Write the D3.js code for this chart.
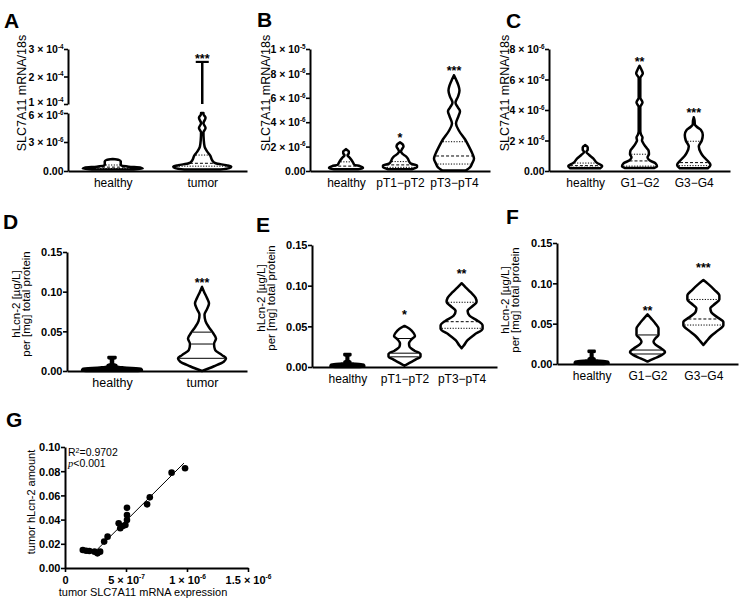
<!DOCTYPE html>
<html><head><meta charset="utf-8">
<script src="https://cdn.jsdelivr.net/npm/d3@7"></script>
<style>
body{margin:0;background:#fff;}
svg{display:block;font-family:"Liberation Sans",Arial,Helvetica,sans-serif;}
</style></head><body>
<svg id="chart" width="748" height="605"></svg>
<script>
// ================= DATA =================
// Violin profiles: [value, relative density]
const groupsA = ["healthy", "tumor"];
const violinA_healthy = [[1.5e-7,21],[2.5e-7,30],[3.5e-7,28],[4.5e-7,16],[5.5e-7,9],[6.5e-7,8],[8e-7,8],[1.0e-6,8],[1.15e-6,6],[1.25e-6,0]];
const violinA_tumor = [[1.5e-7,18],[3e-7,27],[4.5e-7,29],[6e-7,24],[8e-7,13.5],[1.1e-6,10],[1.6e-6,8],[2.0e-6,5],[2.5e-6,2.4],[3.2e-6,1.5],[4.0e-6,1.2],[4.45e-6,3.3],[4.95e-6,1.2],[5.5e-6,3.3],[5.9e-6,1.2],[6.0e-6,1.2]];
const quartA_healthy = [2.5e-7, 4e-7, 6.2e-7];
const quartA_tumor = [5e-7, 8e-7, 1.65e-6];
const maxA_tumor = 2.53e-4;
const starsA = ["", "***"];
const starValA = [0, 2.5e-4];
const ticksA_low = [0, 3e-6, 6e-6];
const ticksA_high = [1e-4, 2e-4, 3e-4];

const groupsB = ["healthy", "pT1\u2212pT2", "pT3\u2212pT4"];
const violinB_healthy = [[1.4e-7,12],[2.5e-7,17],[4e-7,14],[5e-7,8.5],[7e-7,7],[9e-7,5.5],[1.1e-6,3.5],[1.3e-6,1.5],[1.45e-6,2.8],[1.6e-6,2.8],[1.72e-6,1],[1.8e-6,0]];
const violinB_pT12 = [[1.5e-7,12],[3e-7,17],[4.5e-7,17],[6e-7,11],[8e-7,9],[1.0e-6,8],[1.2e-6,6],[1.4e-6,2.5],[1.6e-6,1],[1.8e-6,2],[2.0e-6,3.5],[2.2e-6,2.5],[2.35e-6,0]];
const violinB_pT34 = [[5e-8,12],[3e-7,16],[6e-7,18],[1.0e-6,20],[1.4e-6,18.5],[2.0e-6,15],[2.6e-6,11],[3.3e-6,5],[3.9e-6,2],[4.5e-6,4.5],[4.9e-6,6],[5.2e-6,4],[5.6e-6,1.5],[6.1e-6,4],[6.6e-6,5.5],[7.0e-6,4.5],[7.5e-6,2],[7.85e-6,0]];
const quartB_healthy = [2e-7, 4e-7, 7.5e-7];
const quartB_pT12 = [3e-7, 5e-7, 7.7e-7];
const quartB_pT34 = [5.7e-7, 1.23e-6, 2.4e-6];
const starsB = ["", "*", "***"];
const starValB = [0, 2.34e-6, 7.87e-6];
const ticksB = [0, 2e-6, 4e-6, 6e-6, 8e-6, 1e-5];

const groupsC = ["healthy", "G1\u2212G2", "G3\u2212G4"];
const violinC_healthy = [[1.8e-7,15],[3.3e-7,17],[5.2e-7,12],[8.3e-7,8],[1.05e-6,4],[1.25e-6,1.2],[1.4e-6,2.5],[1.55e-6,2.5],[1.7e-6,0]];
const violinC_G12 = [[2e-7,15],[3e-7,17.5],[5e-7,16],[7e-7,10],[9e-7,8],[1.1e-6,9.5],[1.35e-6,9],[1.6e-6,6],[1.85e-6,3.5],[2.0e-6,2.5],[2.2e-6,3],[2.4e-6,1.5],[2.6e-6,0.8],[4.2e-6,0.8],[4.5e-6,3],[4.8e-6,0.8],[6.1e-6,0.8],[6.4e-6,3.3],[6.7e-6,1.5],[6.9e-6,0]];
const violinC_G34 = [[1.8e-7,14],[4e-7,16.7],[7.2e-7,13],[1.0e-6,9],[1.2e-6,7],[1.6e-6,5],[2.0e-6,8],[2.36e-6,9],[2.7e-6,7],[2.9e-6,3],[3.05e-6,1],[3.3e-6,0.8],[3.52e-6,0]];
const quartC_healthy = [2.5e-7, 3.5e-7, 5.2e-7];
const quartC_G12 = [3.2e-7, 6.6e-7, 1.1e-6];
const quartC_G34 = [3.5e-7, 5.5e-7, 1.95e-6];
const starsC = ["", "**", "***"];
const starValC = [0, 6.89e-6, 3.57e-6];
const ticksC = [0, 2e-6, 4e-6, 6e-6, 8e-6];

const groupsD = ["healthy", "tumor"];
const violinD_healthy = [[0,26],[0.001,30],[0.003,29],[0.0045,12],[0.0055,5],[0.0075,4],[0.009,1],[0.0158,1],[0.016,3.5],[0.0178,3.5]];
const violinD_tumor = [[0,0],[0.006,12],[0.012,22],[0.016,24],[0.020,20],[0.027,13],[0.034,12],[0.041,14],[0.048,11],[0.055,7],[0.063,3.5],[0.071,2.5],[0.078,5],[0.085,7],[0.092,5],[0.1,2],[0.106,0]];
const quartD_tumor = [0.016, 0.034, 0.049];
const starsD = ["", "***"];
const starValD = [0, 0.106];
const ticksHL = [0, 0.05, 0.10, 0.15];

const groupsE = ["healthy", "pT1\u2212pT2", "pT3\u2212pT4"];
const violinE_healthy = [[0,12],[0.001,17],[0.003,16],[0.004,8],[0.005,2],[0.0065,3],[0.008,0.8],[0.014,0.8],[0.0145,3],[0.016,3]];
const violinE_pT12 = [[0.0015,0],[0.005,5],[0.009,11],[0.013,16],[0.016,16],[0.020,10],[0.025,5],[0.029,4.5],[0.034,7],[0.038,10.5],[0.042,9],[0.047,5],[0.0505,0]];
const violinE_pT34 = [[0.023,0],[0.026,2],[0.033,6],[0.040,13],[0.047,21],[0.051,21],[0.057,16],[0.063,8],[0.069,6],[0.075,11],[0.080,15],[0.085,14],[0.092,9],[0.098,4],[0.103,0]];
const quartE_pT12 = [0.0125, 0.017, 0.035];
const quartE_pT34 = [0.0476, 0.0557, 0.0796];
const starsE = ["", "*", "**"];
const starValE = [0, 0.059, 0.1095];

const groupsF = ["healthy", "G1\u2212G2", "G3\u2212G4"];
const violinF_healthy = [[0,12],[0.001,17],[0.003,16],[0.004,8],[0.005,2],[0.0065,3],[0.008,0.8],[0.0145,0.8],[0.015,3],[0.0165,3]];
const violinF_G12 = [[0.003,0],[0.007,7],[0.011,14],[0.015,17.5],[0.019,14],[0.024,8],[0.0276,6],[0.032,8],[0.036,11],[0.044,11],[0.05,8],[0.056,4],[0.0616,0]];
const violinF_G34 = [[0.0235,0],[0.028,3],[0.035,8],[0.042,15],[0.048,20],[0.052,20],[0.058,14],[0.064,8],[0.069,7],[0.075,12],[0.080,16],[0.085,16],[0.092,11],[0.099,5],[0.104,0]];
const quartF_G12 = [0.0124, 0.0173, 0.036];
const quartF_G34 = [0.0483, 0.0558, 0.080];
const starsF = ["", "**", "***"];
const starValF = [0, 0.0607, 0.114];

// Panel G scatter
const gX = [1.46e-7,1.73e-7,2.0e-7,2.42e-7,2.66e-7,2.88e-7,3.21e-7,3.49e-7,4.4e-7,4.53e-7,4.73e-7,4.95e-7,5.08e-7,5.08e-7,5.08e-7,6.73e-7,6.95e-7,8.74e-7,9.84e-7];
const gY = [0.0149,0.0143,0.0140,0.0135,0.0121,0.0135,0.0218,0.0259,0.0369,0.0328,0.0347,0.0355,0.0397,0.0438,0.0498,0.0526,0.0584,0.0788,0.0824];
const fitSlope = 1.004e5;
const fitIntercept = -0.0112;
const fitXRange = [2.6e-7, 9.75e-7];
const ticksGx = [0, 5e-7, 1e-6, 1.5e-6];
const ticksGy = [0, 0.02, 0.04, 0.06, 0.08, 0.10];

// ================= DRAWING =================
const svg = d3.select("#chart");
const DOT = "1.2,1.5", DASH = "3,2";
const FF = '"Liberation Sans", Arial, sans-serif';

function sciParts(v){
  const e = Math.floor(Math.log10(v) + 1e-9);
  const m = +(v / Math.pow(10, e)).toFixed(1);
  return [String(m), String(e)];
}

function yAxis(x, scale, ticks, fs, kind, shift){
  const g = svg.append("g").attr("transform", `translate(${x},0)`);
  g.call(d3.axisLeft(scale).tickValues(ticks).tickSize(4).tickSizeOuter(0).tickFormat(""));
  g.select(".domain").attr("stroke-width", 2).attr("stroke", "#000");
  g.selectAll(".tick line").attr("stroke-width", 1.6).attr("stroke", "#000");
  g.selectAll(".tick").each(function(d){
    const t = d3.select(this).append("text").attr("x", -4.5)
      .attr("y", shift ? shift(d) : 0).attr("dy", "0.35em")
      .attr("text-anchor", "end").attr("font-weight", "bold").attr("font-size", fs)
      .attr("fill", "#000").attr("font-family", FF);
    if (d === 0) { t.text("0.00"); }
    else if (kind === "sci") {
      const [m, e] = sciParts(d);
      t.append("tspan").text(m + " \u00d7 10");
      t.append("tspan").attr("font-size", fs * 0.6).attr("dy", "-0.7em").text(e);
    } else t.text(d3.format(".2f")(d));
  });
  return g;
}

function xAxis(y, scale, fs){
  const g = svg.append("g").attr("transform", `translate(0,${y})`);
  g.call(d3.axisBottom(scale).tickSize(0).tickPadding(7));
  g.select(".domain").attr("stroke-width", 2).attr("stroke", "#000");
  g.selectAll(".tick text").attr("font-size", fs).attr("fill", "#000").attr("font-family", FF);
  return g;
}

function widthAt(prof, v){
  for (let i = 0; i < prof.length - 1; i++){
    const a = prof[i], b = prof[i+1];
    if (v >= a[0] && v <= b[0]) return a[1] + (b[1]-a[1]) * (v - a[0]) / (b[0] - a[0]);
  }
  return 0;
}

function violin(prof, cx, y, w, opts){
  const area = d3.area().curve(d3.curveMonotoneY)
    .y(d => y(d[0])).x0(d => cx - w(d[1])).x1(d => cx + w(d[1]));
  svg.append("path").attr("d", area(prof))
    .attr("fill", opts.fill || "#fff").attr("stroke", "#000")
    .attr("stroke-width", opts.sw || 2.5).attr("stroke-linejoin", "round");
  if (opts.quart){
    opts.quart.forEach((q, i) => {
      const hw = w(widthAt(prof, q)) - 1.2;
      if (hw <= 0) return;
      const ln = svg.append("line").attr("x1", cx - hw).attr("x2", cx + hw)
        .attr("y1", y(q)).attr("y2", y(q)).attr("stroke", "#000").attr("stroke-width", 1);
      const st = opts.styles ? opts.styles[i] : null;
      if (st) ln.attr("stroke-dasharray", st);
    });
  }
}

function stars(texts, vals, xs, y, groups){
  texts.forEach((t, i) => {
    if (!t) return;
    svg.append("text").attr("x", xs(groups[i])).attr("y", y(vals[i]))
      .attr("text-anchor", "middle").attr("font-size", 12.5).attr("font-weight", "bold").text(t);
  });
}

function letter(t, x, y){
  svg.append("text").attr("x", x).attr("y", y).attr("font-size", 21).attr("font-weight", "bold").text(t);
}

function yTitle1(t, x, yc, fs){
  svg.append("text").attr("transform", `translate(${x},${yc}) rotate(-90)`)
    .attr("text-anchor", "middle").attr("font-size", fs).text(t);
}
function yTitle2(t1, t2, x1, x2, yc, fs){
  yTitle1(t1, x1, yc, fs); yTitle1(t2, x2, yc, fs);
}

const QSTYLE = [DOT, DASH, DOT];
const SOLID = [null, null, null];

// ---------- Panel A ----------
{
  const xs = d3.scalePoint().domain(groupsA).range([68, 247]).padding(0.5);
  const yLo = d3.scaleLinear().domain([0, 6e-6]).range([171, 113]);
  const yHi = d3.scaleLinear().domain([1e-4, 3e-4]).range([104, 49]);
  const w = d3.scaleLinear().domain([0, 30]).range([0, 30]);
  violin(violinA_healthy, xs(groupsA[0]), yLo, w, {quart: quartA_healthy, styles: QSTYLE});
  violin(violinA_tumor, xs(groupsA[1]), yLo, w, {quart: quartA_tumor, styles: QSTYLE});
  const cx = xs(groupsA[1]);
  svg.append("line").attr("x1", cx).attr("x2", cx).attr("y1", yHi(1e-4)).attr("y2", yHi(maxA_tumor)).attr("stroke", "#000").attr("stroke-width", 2.5);
  svg.append("line").attr("x1", cx - 6.5).attr("x2", cx + 6.5).attr("y1", yHi(maxA_tumor)).attr("y2", yHi(maxA_tumor)).attr("stroke", "#000").attr("stroke-width", 2.2);
  yAxis(68, yLo, ticksA_low, 10.5, "sci", d => d === 6e-6 ? 2 : 0);
  yAxis(68, yHi, ticksA_high, 10.5, "sci", d => d === 1e-4 ? -2 : 0);
  xAxis(171, xs, 12);
  stars(starsA, starValA, xs, v => v > 1e-5 ? yHi(v) : yLo(v), groupsA);
  letter("A", 4, 28);
  yTitle1("SLC7A11 mRNA/18s", 26, 93, 12.5);
}

// ---------- Panel B ----------
{
  const xs = d3.scalePoint().domain(groupsB).range([310, 490]).padding(0.667);
  const y = d3.scaleLinear().domain([0, 1e-5]).range([171, 49]);
  const w = d3.scaleLinear().domain([0, 30]).range([0, 30]);
  violin(violinB_healthy, xs(groupsB[0]), y, w, {quart: quartB_healthy, styles: QSTYLE});
  violin(violinB_pT12, xs(groupsB[1]), y, w, {quart: quartB_pT12, styles: QSTYLE});
  violin(violinB_pT34, xs(groupsB[2]), y, w, {quart: quartB_pT34, styles: QSTYLE});
  yAxis(310, y, ticksB, 10.5, "sci");
  xAxis(171, xs, 12);
  stars(starsB, starValB, xs, y, groupsB);
  letter("B", 257, 27);
  yTitle1("SLC7A11 mRNA/18s", 270, 93, 12.5);
}

// ---------- Panel C ----------
{
  const xs = d3.scalePoint().domain(groupsC).range([549, 730]).padding(0.667);
  const y = d3.scaleLinear().domain([0, 8e-6]).range([171, 49]);
  const w = d3.scaleLinear().domain([0, 30]).range([0, 30]);
  violin(violinC_healthy, xs(groupsC[0]), y, w, {quart: quartC_healthy, styles: QSTYLE});
  violin(violinC_G12, xs(groupsC[1]), y, w, {quart: quartC_G12, styles: QSTYLE});
  violin(violinC_G34, xs(groupsC[2]), y, w, {quart: quartC_G34, styles: QSTYLE});
  yAxis(549, y, ticksC, 10.5, "sci");
  xAxis(171, xs, 12);
  stars(starsC, starValC, xs, y, groupsC);
  letter("C", 506, 28);
  yTitle1("SLC7A11 mRNA/18s", 509, 93, 12.5);
}

// ---------- Panel D ----------
{
  const xs = d3.scalePoint().domain(groupsD).range([67, 247]).padding(0.5);
  const y = d3.scaleLinear().domain([0, 0.15]).range([371, 252]);
  const w = d3.scaleLinear().domain([0, 30]).range([0, 30]);
  violin(violinD_healthy, xs(groupsD[0]), y, w, {fill: "#000"});
  violin(violinD_tumor, xs(groupsD[1]), y, w, {quart: quartD_tumor, styles: SOLID});
  yAxis(67, y, ticksHL, 11, "dec");
  xAxis(371, xs, 12.5);
  stars(starsD, starValD, xs, y, groupsD);
  letter("D", 3, 229);
  yTitle2("hLcn-2 [\u00b5g/L]", "per [mg] total protein", 19.5, 29.5, 304, 11.5);
}

// ---------- Panel E ----------
{
  const xs = d3.scalePoint().domain(groupsE).range([312, 497]).padding(0.62);
  const y = d3.scaleLinear().domain([0, 0.15]).range([367, 245]);
  const w = d3.scaleLinear().domain([0, 30]).range([0, 30]);
  violin(violinE_healthy, xs(groupsE[0]), y, w, {fill: "#000"});
  violin(violinE_pT12, xs(groupsE[1]), y, w, {quart: quartE_pT12, styles: SOLID});
  violin(violinE_pT34, xs(groupsE[2]), y, w, {quart: quartE_pT34, styles: QSTYLE});
  yAxis(312, y, ticksHL, 11, "dec");
  xAxis(367, xs, 12);
  stars(starsE, starValE, xs, y, groupsE);
  letter("E", 256, 232);
  yTitle2("hLcn-2 [\u00b5g/L]", "per [mg] total protein", 265, 275, 298, 11.5);
}

// ---------- Panel F ----------
{
  const xs = d3.scalePoint().domain(groupsF).range([557, 738]).padding(0.62);
  const y = d3.scaleLinear().domain([0, 0.15]).range([364, 243]);
  const w = d3.scaleLinear().domain([0, 30]).range([0, 30]);
  violin(violinF_healthy, xs(groupsF[0]), y, w, {fill: "#000"});
  violin(violinF_G12, xs(groupsF[1]), y, w, {quart: quartF_G12, styles: SOLID});
  violin(violinF_G34, xs(groupsF[2]), y, w, {quart: quartF_G34, styles: QSTYLE});
  yAxis(557, y, ticksHL, 11, "dec");
  xAxis(364, xs, 12);
  stars(starsF, starValF, xs, y, groupsF);
  letter("F", 506, 224);
  yTitle2("hLcn-2 [\u00b5g/L]", "per [mg] total protein", 509, 519, 300, 11.5);
}

// ---------- Panel G ----------
{
  const xs = d3.scaleLinear().domain([0, 1.5e-6]).range([65, 248]);
  const y = d3.scaleLinear().domain([0, 0.10]).range([568, 447]);
  svg.append("line")
    .attr("x1", xs(fitXRange[0])).attr("y1", y(fitSlope * fitXRange[0] + fitIntercept))
    .attr("x2", xs(fitXRange[1])).attr("y2", y(fitSlope * fitXRange[1] + fitIntercept))
    .attr("stroke", "#000").attr("stroke-width", 1);
  svg.selectAll("circle.pt").data(gX).enter().append("circle").attr("class", "pt")
    .attr("cx", d => xs(d)).attr("cy", (d, i) => y(gY[i])).attr("r", 3.3).attr("fill", "#000");
  yAxis(65, y, ticksGy, 11, "dec");
  const gx = svg.append("g").attr("transform", "translate(0,568)");
  gx.call(d3.axisBottom(xs).tickValues(ticksGx).tickSize(4).tickSizeOuter(0).tickFormat(""));
  gx.select(".domain").attr("stroke-width", 2);
  gx.selectAll(".tick line").attr("stroke-width", 1.6);
  gx.selectAll(".tick").each(function(d){
    const t = d3.select(this).append("text").attr("y", 16).attr("text-anchor", "middle")
      .attr("font-weight", "bold").attr("font-size", 11).attr("fill", "#000").attr("font-family", FF);
    if (d === 0) t.text("0");
    else {
      const [m, e] = sciParts(d);
      t.append("tspan").text(m + " \u00d7 10");
      t.append("tspan").attr("font-size", 6.6).attr("dy", "-0.7em").text(e);
    }
  });
  letter("G", 6, 427);
  yTitle1("tumor hLcn-2 amount", 35, 502, 11);
  svg.append("text").attr("x", 143).attr("y", 596).attr("text-anchor", "middle").attr("font-size", 11)
    .text("tumor SLC7A11 mRNA expression");
  const r = svg.append("text").attr("x", 68).attr("y", 456).attr("font-size", 10.5);
  r.append("tspan").text("R");
  r.append("tspan").attr("font-size", 7).attr("dy", "-0.5em").text("2");
  r.append("tspan").attr("dy", "0.35em").text("=0.9702");
  const p = svg.append("text").attr("x", 68).attr("y", 467).attr("font-size", 10.5);
  p.append("tspan").attr("font-style", "italic").attr("font-family", '"Liberation Serif", "Times New Roman", serif').text("p");
  p.append("tspan").text("<0.001");
}
</script>
</body></html>
